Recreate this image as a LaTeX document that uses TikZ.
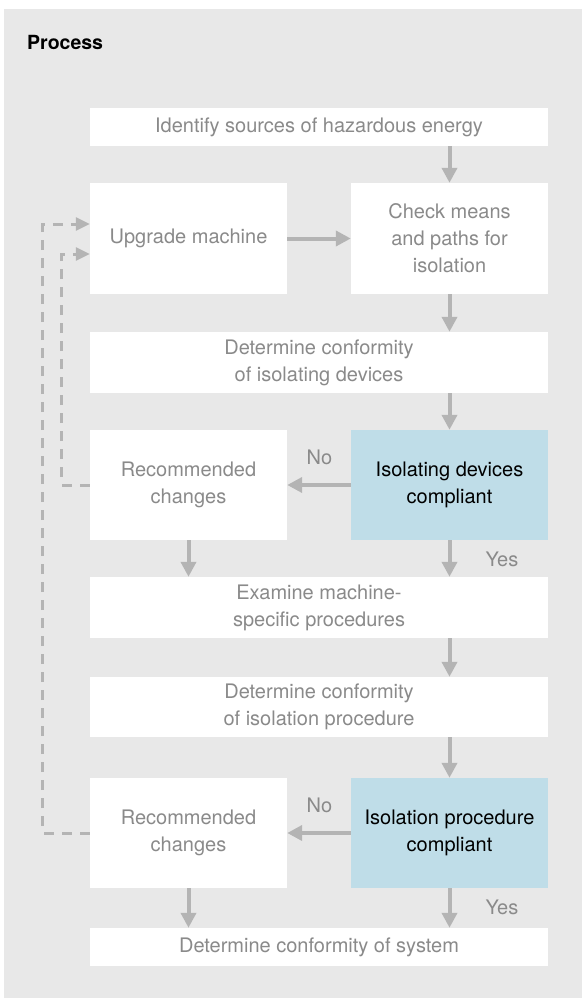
\documentclass[tikz,border=0pt]{standalone}
\usepackage{fontspec}
\setmainfont{TeX Gyre Heros}
\usetikzlibrary{arrows.meta}
\definecolor{panel}{HTML}{E8E8E8}
\definecolor{arrowgrey}{HTML}{B4B4B4}
\definecolor{txtgrey}{HTML}{8A8A8A}
\definecolor{bluebox}{HTML}{BFDDE8}
\begin{document}
\begin{tikzpicture}[x=1pt,y=-1pt,
  boxbase/.style={rectangle, inner sep=0pt, align=center, font=\fontsize{20}{27}\selectfont},
  whitebox/.style={boxbase, fill=white, text=txtgrey},
  bluebx/.style={boxbase, fill=bluebox, text=black},
  wide/.style={minimum width=458pt},
  narrow/.style={minimum width=197pt},
  arr/.style={draw=arrowgrey, line width=4pt, -{Triangle[length=15pt,width=15pt]}},
  dasharr/.style={draw=arrowgrey, line width=3pt, dash pattern=on 10pt off 8pt, -{Triangle[length=14pt,width=13pt]}},
  lbl/.style={text=txtgrey, font=\fontsize{20}{24}\selectfont, inner sep=0pt}
]
\fill[white] (0,0) rectangle (582,998);
\useasboundingbox (0,0) rectangle (582,998);
\fill[panel] (4,9) rectangle (582,998);

\node[anchor=base west, inner sep=0pt, font=\bfseries\fontsize{19.5}{24}\selectfont] (title) at (27,50) {Process};

\node[whitebox, wide, minimum height=38pt] (box1) at (319,127) {Identify sources of hazardous energy};
\node[whitebox, narrow, minimum height=111pt] (upgrade) at (188.5,238.5) {Upgrade machine};
\node[whitebox, narrow, minimum height=111pt] (check) at (449.5,238.5) {Check means\\and paths for\\isolation};
\node[whitebox, wide, minimum height=61pt] (det1) at (319,362.5) {Determine conformity\\of isolating devices};
\node[bluebx, narrow, minimum height=110pt] (iso1) at (449.5,485) {Isolating devices\\compliant};
\node[whitebox, narrow, minimum height=110pt] (rec1) at (188.5,485) {Recommended\\changes};
\node[whitebox, wide, minimum height=61pt] (exam) at (319,607.5) {Examine machine-\\specific procedures};
\node[whitebox, wide, minimum height=60pt] (det2) at (319,707) {Determine conformity\\of isolation procedure};
\node[bluebx, narrow, minimum height=110pt] (iso2) at (449.5,833) {Isolation procedure\\compliant};
\node[whitebox, narrow, minimum height=110pt] (rec2) at (188.5,833) {Recommended\\changes};
\node[whitebox, wide, minimum height=38pt] (final) at (319,947) {Determine conformity of system};

\node[lbl] (no1) at (319.5,457) {No};
\node[lbl] (yes1) at (502,559) {Yes};
\node[lbl] (no2) at (319.5,805) {No};
\node[lbl] (yes2) at (502,907) {Yes};

\draw[arr] (box1.south -| check.north) -- (check.north);
\draw[arr] (upgrade.east) -- (check.west);
\draw[arr] (check.south) -- (check.south |- det1.north);
\draw[arr] (det1.south -| iso1.north) -- (iso1.north);
\draw[arr] (iso1.west) -- (rec1.east);
\draw[arr] (rec1.south) -- (rec1.south |- exam.north);
\draw[arr] (iso1.south) -- (iso1.south |- exam.north);
\draw[arr] (exam.south -| iso2.north) -- (det2.north -| iso2.north);
\draw[arr] (det2.south -| iso2.north) -- (iso2.north);
\draw[arr] (iso2.west) -- (rec2.east);
\draw[arr] (rec2.south) -- (rec2.south |- final.north);
\draw[arr] (iso2.south) -- (iso2.south |- final.north);

\draw[dasharr] (rec1.west) -- ++(-28,0) |- ([yshift=-15.5pt]upgrade.west);
\draw[dasharr] (rec2.west) -- ++(-47,0) |- ([yshift=14.5pt]upgrade.west);
\end{tikzpicture}
\end{document}
